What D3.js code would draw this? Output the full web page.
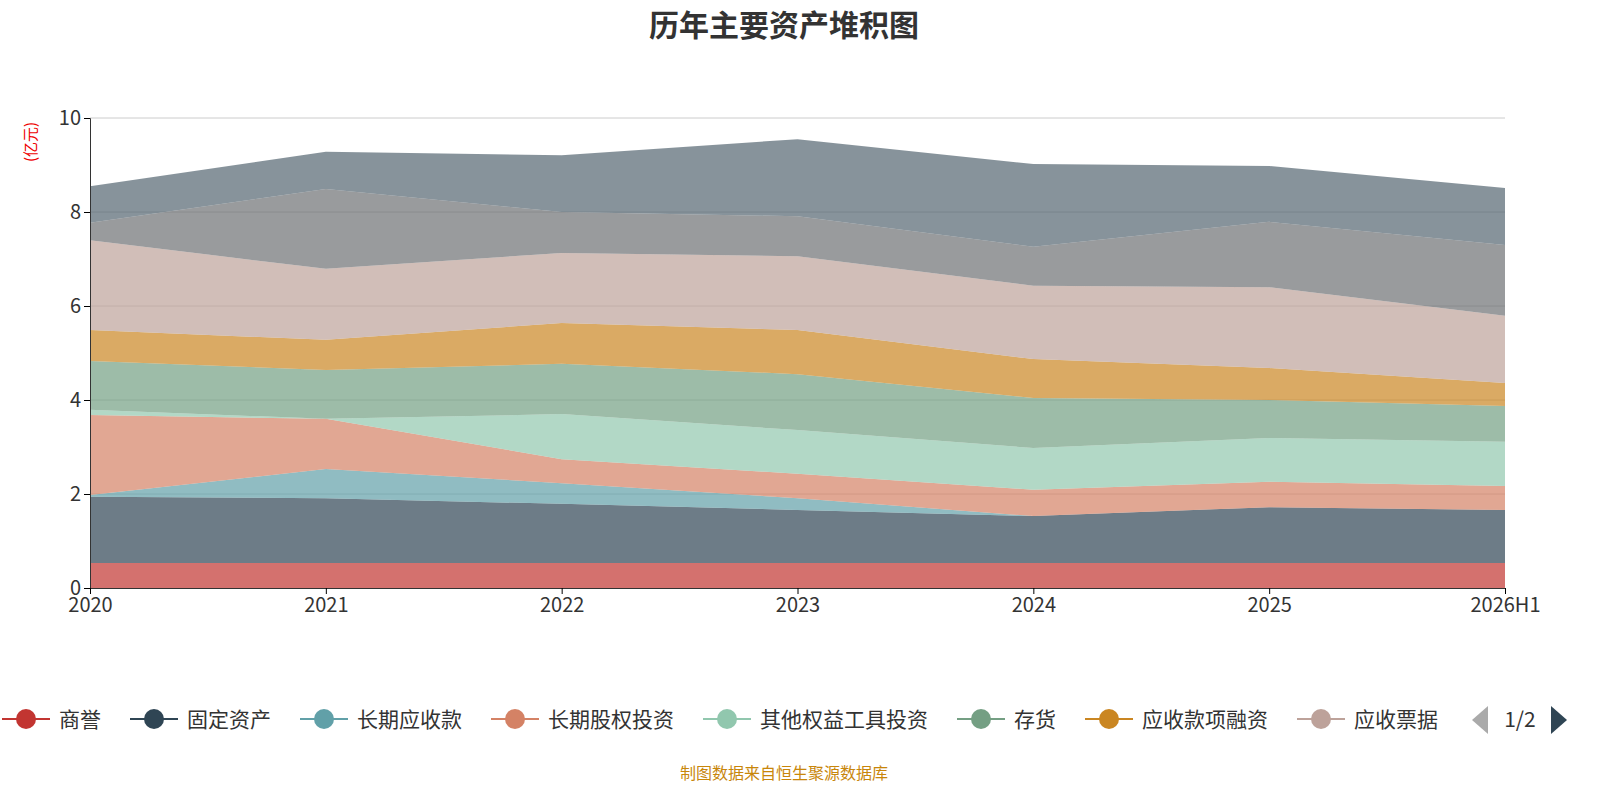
<!DOCTYPE html>
<html><head><meta charset="utf-8">
<script src="https://cdn.jsdelivr.net/npm/d3@7"></script>
<style>html,body{margin:0;padding:0;overflow:hidden;background:#fff}svg{display:block;font-family:"Noto Sans CJK SC","Noto Sans",sans-serif}</style>
</head><body>
<script>
const years = ["2020","2021","2022","2023","2024","2025","2026H1"];
const names = ["商誉","固定资产","长期应收款","长期股权投资","其他权益工具投资","存货","应收款项融资","应收票据","应收账款","货币资金"];
const colors = ["#c23531","#2f4554","#61a0a8","#d48265","#91c7ae","#749f83","#ca8622","#bda29a","#6e7074","#546570"];
// values per series (亿元)
const goodwill   = [0.53,0.53,0.53,0.53,0.53,0.53,0.53];
const fixed      = [1.41,1.38,1.26,1.13,1.00,1.19,1.13];
const ltRecv     = [0.04,0.62,0.44,0.25,0.00,0.00,0.00];
const ltEquity   = [1.70,1.07,0.51,0.52,0.56,0.54,0.51];
const otherEq    = [0.11,0.00,0.96,0.93,0.89,0.93,0.94];
const inventory  = [1.04,1.04,1.07,1.19,1.06,0.81,0.76];
const recvFin    = [0.66,0.64,0.87,0.94,0.83,0.68,0.49];
const notesRecv  = [1.91,1.51,1.49,1.57,1.56,1.72,1.43];
const acctRecv   = [0.37,1.70,0.87,0.85,0.83,1.39,1.51];
const cash       = [0.78,0.79,1.21,1.64,1.76,1.19,1.21];
const series = [goodwill,fixed,ltRecv,ltEquity,otherEq,inventory,recvFin,notesRecv,acctRecv,cash];

const W=1600,H=800;
const svg=d3.select("body").append("svg").attr("width",W).attr("height",H);
const x=d3.scalePoint().domain(years).range([90,1505]);
const y=d3.scaleLinear().domain([0,10]).range([588,118]);

svg.append("text").attr("x",784).attr("y",36).attr("text-anchor","middle")
  .attr("font-size",30).attr("font-weight","bold").attr("fill","#333").text("历年主要资产堆积图");

// grid
svg.append("g").selectAll("line").data(y.ticks(5).slice(1)).join("line")
  .attr("x1",90).attr("x2",1505).attr("y1",d=>y(d)).attr("y2",d=>y(d)).attr("stroke","#ccc");

const rows=years.map((yr,i)=>{const o={year:yr};names.forEach((n,k)=>o[n]=series[k][i]);return o;});
const stacked=d3.stack().keys(names)(rows);
const area=d3.area().x(d=>x(d.data.year)).y0(d=>y(d[0])).y1(d=>y(d[1]));
svg.append("g").selectAll("path").data(stacked).join("path")
  .attr("d",area).attr("fill",(d,i)=>colors[i]).attr("fill-opacity",0.7);

const ya=svg.append("g").attr("transform","translate(90,0)")
  .call(d3.axisLeft(y).ticks(5).tickSize(6));
ya.selectAll("text").attr("font-size",20).attr("fill","#333").attr("font-family","Noto Sans CJK SC");
ya.select(".domain").attr("stroke","#333");
const xa=svg.append("g").attr("transform","translate(0,588)")
  .call(d3.axisBottom(x).tickSize(6).tickPadding(4));
xa.selectAll("text").attr("font-size",20).attr("fill","#333").attr("font-family","Noto Sans CJK SC");
xa.select(".domain").attr("stroke","#333");

svg.append("text").attr("transform","translate(36,142) rotate(-90)").attr("text-anchor","middle")
  .attr("font-size",15).attr("fill","#e00").text("(亿元)");

// legend (page 1, clipped)
svg.append("clipPath").attr("id","lc").append("rect").attr("x",0).attr("y",690).attr("width",1463).attr("height",60);
const lg=svg.append("g").attr("clip-path","url(#lc)");
let lx=2;
names.forEach((n,i)=>{
  const g=lg.append("g").attr("transform",`translate(${lx},719)`);
  g.append("line").attr("x1",0).attr("x2",48).attr("stroke",colors[i]).attr("stroke-width",2);
  g.append("circle").attr("cx",24).attr("r",10).attr("fill",colors[i]);
  g.append("text").attr("x",57).attr("y",8).attr("font-size",21).attr("fill","#333").text(n);
  lx+=57+n.length*21+29;
});
svg.append("path").attr("d","M1488,706 L1472,720 L1488,734 Z").attr("fill","#aaa");
svg.append("text").attr("x",1520).attr("y",727).attr("text-anchor","middle").attr("font-size",21).attr("fill","#333").text("1/2");
svg.append("path").attr("d","M1551,706 L1567,720 L1551,734 Z").attr("fill","#2f4554");

svg.append("text").attr("x",784).attr("y",779).attr("text-anchor","middle")
  .attr("font-size",16).attr("fill","#c8860a").text("制图数据来自恒生聚源数据库");
</script>
</body></html>
